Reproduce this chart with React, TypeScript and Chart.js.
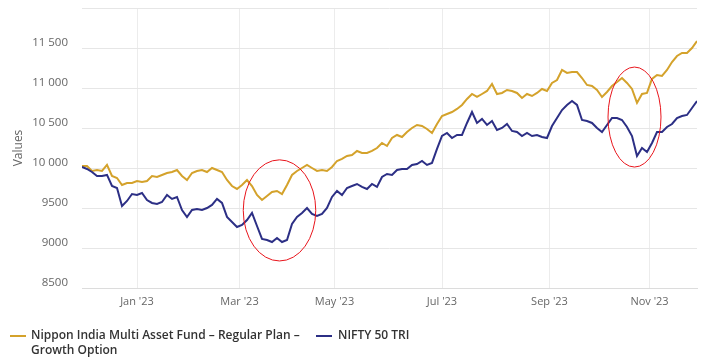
import React, { useEffect, useRef } from "react";
import { Chart, registerables } from "chart.js";

Chart.register(...registerables);

// ---- data ----
const fundName = ["Nippon India Multi Asset Fund – Regular Plan –", "Growth Option"];
const benchName = "NIFTY 50 TRI";
const tradingDaysPerSample = 2; // one value every 2 trading days, Dec 2022 → Nov 2023
const lastTradingDay = 246;
const monthTickDays = [22, 63, 101, 144, 187, 227];
const monthTickLabels = ["Jan '23", "Mar '23", "May '23", "Jul '23", "Sep '23", "Nov '23"];
const yMin = 8500;
const yMax = 12000;
const yStep = 500;

const fundValues = [
  10025, 10025, 9963, 9975, 9963, 10038, 9900, 9875, 9788, 9813,
  9813, 9838, 9825, 9838, 9900, 9888, 9913, 9938, 9950, 9975,
  9900, 9850, 9938, 9963, 9975, 9950, 10000, 9975, 9950, 9850,
  9775, 9738, 9788, 9850, 9775, 9663, 9600, 9650, 9700, 9713,
  9675, 9788, 9913, 9963, 10000, 10038, 10000, 9963, 9975, 9963,
  10013, 10088, 10113, 10150, 10163, 10213, 10188, 10188, 10213, 10250,
  10313, 10275, 10375, 10413, 10388, 10450, 10500, 10538, 10525, 10488,
  10438, 10550, 10650, 10675, 10700, 10738, 10788, 10863, 10925, 10888,
  10925, 10963, 11050, 10925, 10938, 10975, 10963, 10938, 10875, 10925,
  10900, 10938, 10988, 10963, 11063, 11100, 11225, 11188, 11200, 11200,
  11125, 11038, 11025, 10975, 10888, 10950, 11025, 11075, 11125, 11063,
  10988, 10813, 10925, 10938, 11113, 11163, 11150, 11225, 11325, 11400,
  11438, 11438, 11500, 11588,
];

const niftyValues = [
  10013, 9988, 9950, 9900, 9900, 9913, 9775, 9750, 9525, 9588,
  9675, 9663, 9688, 9600, 9563, 9550, 9575, 9663, 9613, 9638,
  9475, 9388, 9475, 9488, 9475, 9500, 9538, 9613, 9563, 9388,
  9325, 9263, 9288, 9350, 9438, 9275, 9113, 9100, 9075, 9125,
  9075, 9100, 9300, 9388, 9438, 9500, 9425, 9400, 9425, 9500,
  9638, 9713, 9663, 9750, 9775, 9800, 9763, 9738, 9800, 9763,
  9888, 9925, 9913, 9975, 9988, 9988, 10038, 10050, 10088, 10038,
  10063, 10238, 10400, 10438, 10375, 10413, 10413, 10563, 10700, 10563,
  10613, 10538, 10588, 10475, 10500, 10550, 10463, 10450, 10400, 10438,
  10400, 10413, 10388, 10375, 10525, 10625, 10725, 10788, 10838, 10788,
  10600, 10588, 10563, 10500, 10450, 10538, 10625, 10625, 10600, 10513,
  10400, 10150, 10250, 10200, 10313, 10450, 10450, 10513, 10550, 10625,
  10650, 10663, 10750, 10838,
];

// red highlight ellipses (in data units: trading day / value)
const highlightDays = [79, 221];
const highlightValues = [9470, 10637];
const highlightHalfDays = [14.5, 10.6];
const highlightHalfValues = [632, 625];

const GOLD = "#d4a22b";
const NAVY = "#2c2f85";

function fmt(v: number): string {
  if (v >= 10000) {
    const th = Math.floor(v / 1000);
    const rest = String(v % 1000).padStart(3, "0");
    return `${th} ${rest}`;
  }
  return String(v);
}

const ellipsePlugin = {
  id: "highlightEllipses",
  afterDatasetsDraw(chart: any) {
    const { ctx, scales } = chart;
    const xs = scales.x;
    const ys = scales.y;
    ctx.save();
    ctx.strokeStyle = "#e8141b";
    ctx.lineWidth = 1;
    highlightDays.forEach((d, i) => {
      const cx = xs.getPixelForValue(d);
      const cy = ys.getPixelForValue(highlightValues[i]);
      const rx = Math.abs(xs.getPixelForValue(d + highlightHalfDays[i]) - cx);
      const ry = Math.abs(ys.getPixelForValue(highlightValues[i] + highlightHalfValues[i]) - cy);
      ctx.beginPath();
      ctx.ellipse(cx, cy, rx, ry, 0, 0, Math.PI * 2);
      ctx.stroke();
    });
    ctx.restore();
  },
};

const legendPlugin = {
  id: "wrappedLegend",
  afterDraw(chart: any) {
    const { ctx } = chart;
    const ds = chart.data.datasets;
    ctx.save();
    ctx.font = "600 12px 'Open Sans'";
    ctx.fillStyle = "#333333";
    ctx.textBaseline = "middle";
    ctx.textAlign = "left";
    const items = [
      { sx: 10, tx: 31, lines: ds[0].label as string[], color: ds[0].borderColor },
      { sx: 316, tx: 338, lines: [ds[1].label as string], color: ds[1].borderColor },
    ];
    const y0 = 336;
    items.forEach((it) => {
      ctx.strokeStyle = it.color;
      ctx.lineWidth = 2;
      ctx.beginPath();
      ctx.moveTo(it.sx, y0);
      ctx.lineTo(it.sx + 16, y0);
      ctx.stroke();
      it.lines.forEach((ln, j) => {
        ctx.fillText(ln, it.tx, y0 + j * 15);
      });
    });
    ctx.restore();
  },
};

export default function App() {
  const ref = useRef<HTMLCanvasElement | null>(null);

  useEffect(() => {
    if (!ref.current) return;
    const toPoints = (arr: number[]) =>
      arr.map((v, i) => ({ x: i * tradingDaysPerSample, y: v }));

    const chart = new Chart(ref.current, {
      type: "line",
      data: {
        datasets: [
          {
            label: fundName as any,
            data: toPoints(fundValues),
            borderColor: GOLD,
            backgroundColor: GOLD,
            borderWidth: 2,
            pointRadius: 0,
            tension: 0,
            order: 1,
          },
          {
            label: benchName,
            data: toPoints(niftyValues),
            borderColor: NAVY,
            backgroundColor: NAVY,
            borderWidth: 2,
            pointRadius: 0,
            tension: 0,
            order: 0,
          },
        ],
      },
      options: {
        responsive: false,
        animation: false,
        devicePixelRatio: 1,
        layout: { padding: { top: 8, right: 25, bottom: 45, left: 0 } },
        plugins: {
          legend: { display: false },
          tooltip: { enabled: false },
        },
        scales: {
          x: {
            type: "linear",
            min: 0,
            max: lastTradingDay,
            afterBuildTicks: (scale: any) => {
              scale.ticks = monthTickDays.map((v) => ({ value: v }));
            },
            afterFit: (scale: any) => {
              scale.height = 30;
              scale.paddingLeft = 0;
              scale.paddingRight = 0;
            },
            ticks: {
              autoSkip: false,
              maxRotation: 0,
              padding: 7,
              color: "#666666",
              font: { family: "'Open Sans'", size: 11 },
              callback: (_v: any, i: number) => monthTickLabels[i],
            },
            grid: { color: "#ececec", drawTicks: false, lineWidth: 1 },
            border: { color: "#dcdcdc" },
          },
          y: {
            type: "linear",
            min: yMin,
            max: yMax,
            afterFit: (scale: any) => {
              scale.width = 82;
              scale.paddingTop = 0;
              scale.paddingBottom = 0;
            },
            ticks: {
              stepSize: yStep,
              padding: 14,
              labelOffset: -5,
              color: "#666666",
              font: { family: "'Open Sans'", size: 11.5 },
              callback: (v: any) => (v >= yMax ? "" : fmt(Number(v))),
            },
            grid: { color: "#e6e6e6", drawTicks: false },
            border: { display: false },
            title: {
              display: true,
              text: "Values",
              color: "#666666",
              font: { family: "'Open Sans'", size: 12 },
              padding: { top: 11, bottom: 0 },
            },
          },
        },
      },
      plugins: [ellipsePlugin, legendPlugin],
    } as any);

    return () => chart.destroy();
  }, []);

  return (
    <div style={{ position: "fixed", left: 0, top: 0, width: 722, height: 363, background: "#ffffff" }}>
      <canvas ref={ref} width={722} height={363} style={{ display: "block", width: 722, height: 363 }} />
    </div>
  );
}
